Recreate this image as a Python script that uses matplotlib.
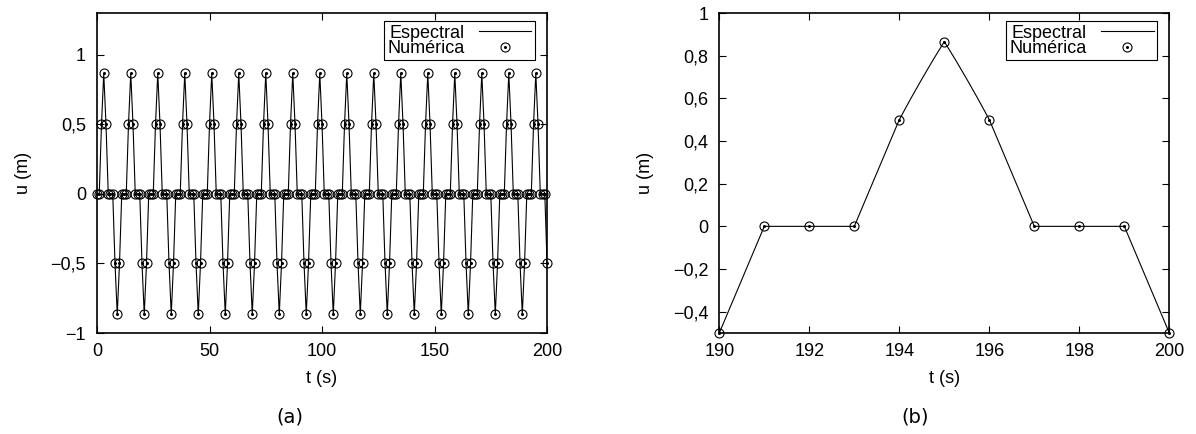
import matplotlib
matplotlib.use("Agg")
import matplotlib.pyplot as plt
from matplotlib.ticker import MultipleLocator, FuncFormatter

plt.rcParams['font.family'] = ['Liberation Sans', 'DejaVu Sans']

# (a) whole run, one sample per second (t = 0..200)
t_a = list(range(0, 201))
u_a = [
    0, 0, 0.5, 0.866, 0.5, 0, 0, 0, -0.5, -0.866, -0.5, 0,   # 0-11
    0, 0, 0.5, 0.866, 0.5, 0, 0, 0, -0.5, -0.866, -0.5, 0,   # 12-23
    0, 0, 0.5, 0.866, 0.5, 0, 0, 0, -0.5, -0.866, -0.5, 0,   # 24-35
    0, 0, 0.5, 0.866, 0.5, 0, 0, 0, -0.5, -0.866, -0.5, 0,   # 36-47
    0, 0, 0.5, 0.866, 0.5, 0, 0, 0, -0.5, -0.866, -0.5, 0,   # 48-59
    0, 0, 0.5, 0.866, 0.5, 0, 0, 0, -0.5, -0.866, -0.5, 0,   # 60-71
    0, 0, 0.5, 0.866, 0.5, 0, 0, 0, -0.5, -0.866, -0.5, 0,   # 72-83
    0, 0, 0.5, 0.866, 0.5, 0, 0, 0, -0.5, -0.866, -0.5, 0,   # 84-95
    0, 0, 0.5, 0.866, 0.5, 0, 0, 0, -0.5, -0.866, -0.5, 0,   # 96-107
    0, 0, 0.5, 0.866, 0.5, 0, 0, 0, -0.5, -0.866, -0.5, 0,   # 108-119
    0, 0, 0.5, 0.866, 0.5, 0, 0, 0, -0.5, -0.866, -0.5, 0,   # 120-131
    0, 0, 0.5, 0.866, 0.5, 0, 0, 0, -0.5, -0.866, -0.5, 0,   # 132-143
    0, 0, 0.5, 0.866, 0.5, 0, 0, 0, -0.5, -0.866, -0.5, 0,   # 144-155
    0, 0, 0.5, 0.866, 0.5, 0, 0, 0, -0.5, -0.866, -0.5, 0,   # 156-167
    0, 0, 0.5, 0.866, 0.5, 0, 0, 0, -0.5, -0.866, -0.5, 0,   # 168-179
    0, 0, 0.5, 0.866, 0.5, 0, 0, 0, -0.5, -0.866, -0.5, 0,   # 180-191
    0, 0, 0.5, 0.866, 0.5, 0, 0, 0, -0.5,                    # 192-200
]

# (b) zoom on the last 10 s
t_b_num = [190, 191, 192, 193, 194, 195, 196, 197, 198, 199, 200]
u_b_num = [-0.5, 0, 0, 0, 0.5, 0.866, 0.5, 0, 0, 0, -0.5]
t_b_spec = [190, 191, 192, 193, 194, 194.25, 194.5, 194.75, 195,
            195.25, 195.5, 195.75, 196, 197, 198, 199, 200]
u_b_spec = [-0.5, 0, 0, 0, 0.5, 0.597, 0.69, 0.78, 0.866,
            0.78, 0.69, 0.597, 0.5, 0, 0, 0, -0.5]

FS = 13


def comma(v, pos):
    s = f"{round(v, 3):g}".replace('.', ',')
    return s.replace('-', '\u2212')


def draw(ax, t_spec, u_spec, t_num, u_num):
    line, = ax.plot(t_spec, u_spec, color='black', lw=0.8)
    circ, = ax.plot(t_num, u_num, ls='none', marker='o', ms=6.5, mfc='none',
                    mec='black', mew=0.8, clip_on=False)
    dot, = ax.plot(t_num, u_num, ls='none', marker='o', ms=1.2, color='black',
                   clip_on=False)
    leg = ax.legend([line, (circ, dot)], ['Espectral', 'Numérica'],
                    loc='upper right', bbox_to_anchor=(0.973, 0.975),
                    borderaxespad=0, markerfirst=False, fancybox=False,
                    edgecolor='black', framealpha=1, fontsize=FS,
                    handlelength=2.9, handletextpad=0.8, labelspacing=-0.1,
                    borderpad=0.2)
    leg.get_frame().set_linewidth(0.8)
    ax.tick_params(direction='in', top=True, right=True, length=5, width=0.8,
                   labelsize=FS)
    ax.tick_params(axis='x', pad=7)
    ax.tick_params(axis='y', pad=8)
    for s in ax.spines.values():
        s.set_linewidth(1.2)
    ax.yaxis.set_major_formatter(FuncFormatter(comma))
    ax.xaxis.set_major_formatter(FuncFormatter(comma))
    ax.set_xlabel('t (s)', fontsize=FS)
    ax.set_ylabel('u (m)', fontsize=FS)
    ax.xaxis.set_label_coords(0.5, -0.115)
    ax.yaxis.set_label_coords(-0.145, 0.5)


fig = plt.figure(figsize=(11.96, 4.34), dpi=100)

ax1 = fig.add_axes([0.0811, 0.2327, 0.3763, 0.7373])
draw(ax1, t_a, u_a, t_a, u_a)
ax1.set_xlim(0, 200)
ax1.set_ylim(-1, 1.3)
ax1.xaxis.set_major_locator(MultipleLocator(50))
ax1.yaxis.set_major_locator(MultipleLocator(0.5))

ax2 = fig.add_axes([0.6014, 0.2327, 0.3763, 0.7373])
draw(ax2, t_b_spec, u_b_spec, t_b_num, u_b_num)
ax2.set_xlim(190, 200)
ax2.set_ylim(-0.5, 1)
ax2.xaxis.set_major_locator(MultipleLocator(2))
ax2.yaxis.set_major_locator(MultipleLocator(0.2))

fig.text(0.2425, 0.039, '(a)', ha='center', va='center', fontsize=14,
         family='DejaVu Sans')
fig.text(0.765, 0.039, '(b)', ha='center', va='center', fontsize=14,
         family='DejaVu Sans')

fig.savefig('out.png', dpi=100)
